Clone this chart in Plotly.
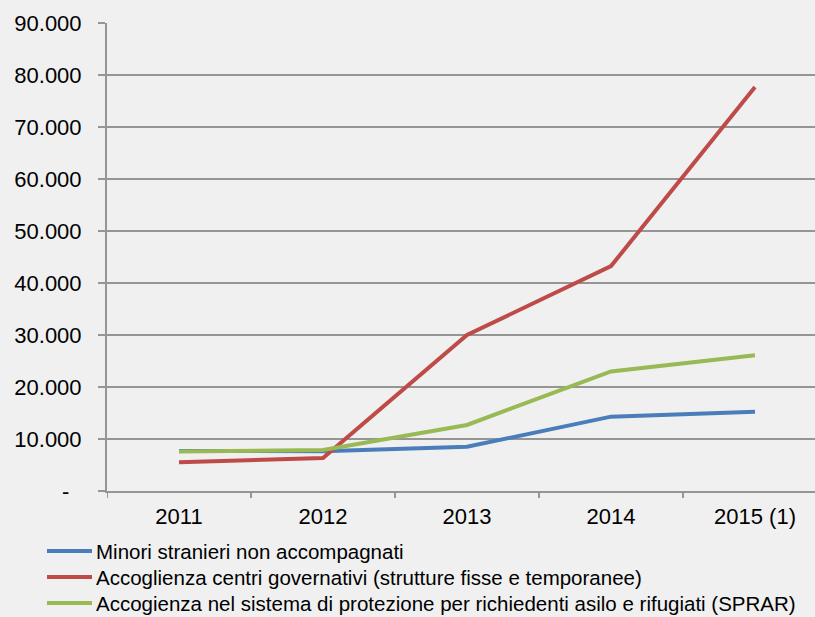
import plotly.graph_objects as go

years = ["2011", "2012", "2013", "2014", "2015"]
year_labels = ["2011", "2012", "2013", "2014", "2015 (1)"]

series_names = [
    "Minori stranieri non accompagnati",
    "Accoglienza centri governativi (strutture fisse e temporanee)",
    "Accogienza nel sistema di protezione per richiedenti asilo e rifugiati (SPRAR)",
]
minori = [7700, 7650, 8500, 14300, 15250]
centri = [5550, 6350, 30000, 43250, 77700]
sprar = [7600, 7900, 12700, 23000, 26100]
series_values = [minori, centri, sprar]
series_colors = ["#4a7ebb", "#be4b48", "#98b954"]

y_ticks = [0, 10000, 20000, 30000, 40000, 50000, 60000, 70000, 80000, 90000]
y_tick_text = ["-\u00a0\u00a0"] + [f"{v // 1000}.000" for v in y_ticks[1:]]

W, H = 815, 617
L, T, B = 107, 23, 126
plot_w = W - L
plot_h = H - T - B
cat_px = 144

fig = go.Figure()
for name, vals, col in zip(series_names, series_values, series_colors):
    fig.add_trace(go.Scatter(
        x=list(range(len(years))), y=vals, name=name, mode="lines",
        line=dict(color=col, width=4), showlegend=False,
    ))

# legend drawn below the plot: short line sample followed by the label
leg_x0, leg_x1, leg_text_x = 47, 92, 94
leg_rows = [551, 577, 603]
for name, col, py in zip(series_names, series_colors, leg_rows):
    yp = (H - B - py) / plot_h
    fig.add_shape(type="line", xref="paper", yref="paper",
                  x0=(leg_x0 - L) / plot_w, x1=(leg_x1 - L) / plot_w, y0=yp, y1=yp,
                  line=dict(color=col, width=4))
    fig.add_annotation(xref="paper", yref="paper", x=(leg_text_x - L) / plot_w, y=yp,
                       text=name, showarrow=False, xanchor="left", yanchor="middle",
                       font=dict(family="Liberation Sans", size=20.5, color="#000000"))

fig.update_layout(
    width=W, height=H,
    margin=dict(l=L, r=0, t=T, b=B),
    paper_bgcolor="#f0f0f0", plot_bgcolor="#f0f0f0",
    font=dict(family="Liberation Sans", size=22, color="#000000"),
)
fig.update_xaxes(
    range=[-0.5, -0.5 + plot_w / cat_px],
    tickmode="array", tickvals=list(range(len(years))), ticktext=year_labels,
    showgrid=False, zeroline=False,
    showline=True, linecolor="#959595", linewidth=2,
    ticks="", ticklabelstandoff=5,
)
# category boundary tick marks on the x axis
for i in range(len(years) + 1):
    xb = i - 0.5
    if xb > -0.5 + plot_w / cat_px:
        continue
    fig.add_shape(type="line", xref="x", yref="paper", x0=xb, x1=xb,
                  y0=0, y1=-7 / plot_h, line=dict(color="#959595", width=2))
fig.update_yaxes(
    range=[0, 90000], tickmode="array", tickvals=y_ticks, ticktext=y_tick_text,
    showgrid=True, gridcolor="#959595", gridwidth=2, zeroline=False,
    showline=True, linecolor="#959595", linewidth=2,
    ticks="outside", ticklen=7, tickcolor="#959595", tickwidth=2,
    ticklabelstandoff=12,
)

fig.write_html("out.html")
